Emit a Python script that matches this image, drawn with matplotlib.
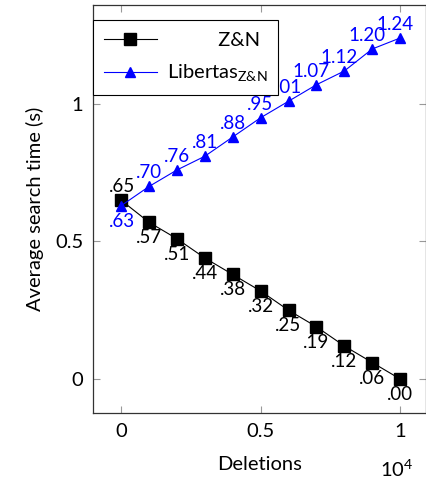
import matplotlib.pyplot as plt
import numpy as np

plt.rcParams['font.family'] = ['Lato', 'DejaVu Sans']
plt.rcParams['mathtext.fontset'] = 'custom'
plt.rcParams['mathtext.rm'] = 'Lato'

# data
deletions = [0, 1000, 2000, 3000, 4000, 5000, 6000, 7000, 8000, 9000, 10000]
zn = [0.65, 0.57, 0.51, 0.44, 0.38, 0.32, 0.25, 0.19, 0.12, 0.06, 0.00]
libertas = [0.63, 0.70, 0.76, 0.81, 0.88, 0.95, 1.01, 1.07, 1.12, 1.20, 1.24]
zn_labels = ['.65', '.57', '.51', '.44', '.38', '.32', '.25', '.19', '.12', '.06', '.00']
lib_labels = ['.63', '.70', '.76', '.81', '.88', '.95', '1.01', '1.07', '1.12', '1.20', '1.24']
xticks = [0, 5000, 10000]
xtick_labels = ['0', '0.5', '1']
yticks = [0, 0.5, 1]
ytick_labels = ['0', '0.5', '1']

fig = plt.figure(figsize=(4.27, 4.84), dpi=100)
ax = fig.add_axes([0.218, 0.1467, 0.78, 0.843])

ax.plot(deletions, zn, color='black', lw=0.8, marker='s', ms=8, label='          Z&N', zorder=3)
ax.plot(deletions, libertas, color='#0000ff', lw=0.8, marker='^', ms=7,
        label=r'Libertas$_{\mathrm{Z&N}}$', zorder=3)

fs = 14.5
lfs = 13.5  # labels near the marks
for i, (x, y) in enumerate(zip(deletions, zn)):
    if i == 0:
        ax.annotate(zn_labels[i], (x, y), xytext=(14, 5), textcoords='offset pixels',
                    ha='right', va='bottom', fontsize=lfs, color='black')
    else:
        ax.annotate(zn_labels[i], (x, y), xytext=(13, -7), textcoords='offset pixels',
                    ha='right', va='top', fontsize=lfs, color='black')
for i, (x, y) in enumerate(zip(deletions, libertas)):
    if i == 0:
        ax.annotate(lib_labels[i], (x, y), xytext=(14, -7), textcoords='offset pixels',
                    ha='right', va='top', fontsize=lfs, color='#0000ff')
    else:
        ax.annotate(lib_labels[i], (x, y), xytext=(13, 5), textcoords='offset pixels',
                    ha='right', va='bottom', fontsize=lfs, color='#0000ff')

ax.set_xlim(-1004, 10932)
ax.set_ylim(-0.1236, 1.36)
ax.set_xticks(xticks)
ax.set_xticklabels(xtick_labels)
ax.set_yticks(yticks)
ax.set_yticklabels(ytick_labels)
ax.tick_params(direction='in', length=5, width=0.8, color='#999999',
               top=True, right=True, labelsize=fs, pad=7)
for s in ax.spines.values():
    s.set_color('#333333')
    s.set_linewidth(0.9)

ax.set_xlabel('Deletions', fontsize=fs, labelpad=12)
ax.set_ylabel('Average search time (s)', fontsize=fs, labelpad=8)
fig.text(0.93, 0.008, r'10$^4$', fontsize=fs, ha='center', va='bottom')

leg = ax.legend(loc='upper left', bbox_to_anchor=(0.0, 0.962), fontsize=fs,
                frameon=True, fancybox=False, edgecolor='black', framealpha=1,
                handlelength=2.6, borderpad=0.55, labelspacing=0.7, borderaxespad=0,
                handletextpad=0.5)
leg.get_frame().set_linewidth(0.8)

fig.savefig('out.png', dpi=100)
